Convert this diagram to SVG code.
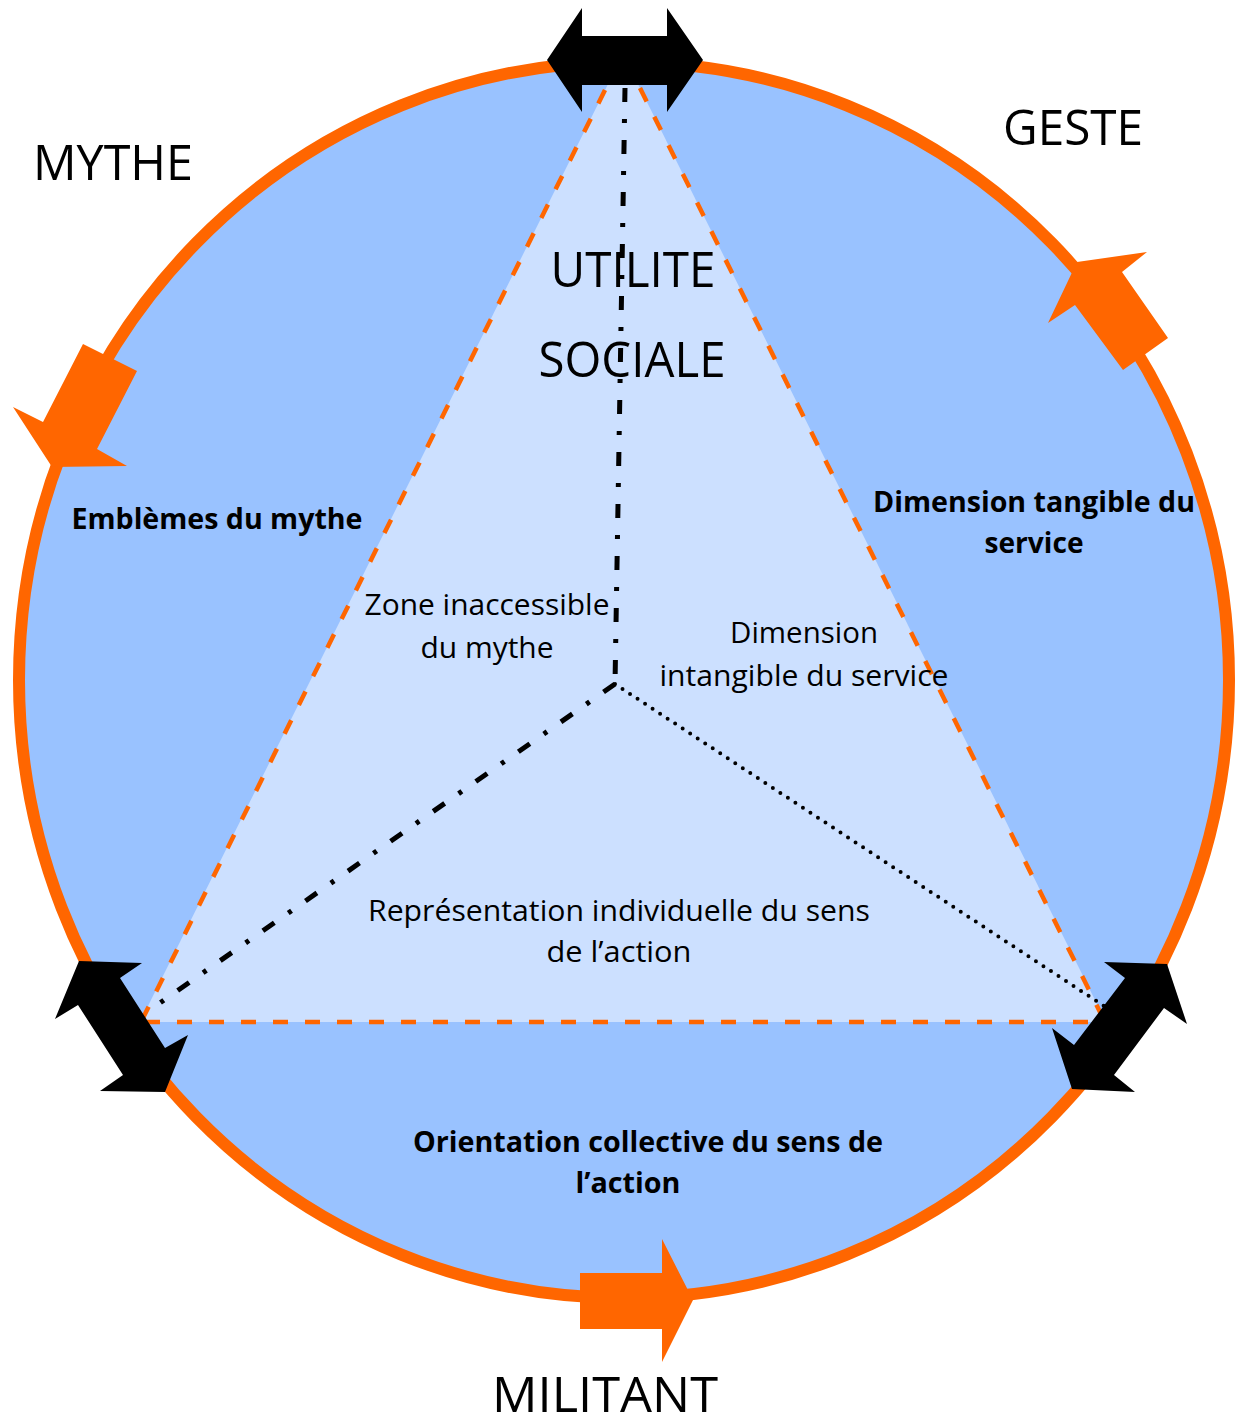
<svg xmlns="http://www.w3.org/2000/svg" width="1242" height="1428" viewBox="0 0 1242 1428">
<style>
.title{font-family:"Open Sans","Liberation Sans",sans-serif;font-size:49px;fill:#000;text-anchor:middle}
.lbl{font-family:"Open Sans","Liberation Sans",sans-serif;font-size:29px;fill:#000;text-anchor:middle}
.bold{font-weight:bold;font-size:28px}
.edge{fill:none;stroke:#FF6600;stroke-width:4.5;stroke-dasharray:15 17}
.dashdot{fill:none;stroke:#000;stroke-width:5;stroke-dasharray:14 17 4 17}
.dot{fill:none;stroke:#000;stroke-width:4;stroke-linecap:round;stroke-dasharray:0 9}
.orange{fill:#FF6600}
.black{fill:#000}
</style>
<rect width="1242" height="1428" fill="#fff"/>
<g id="circle">
<ellipse cx="624" cy="680" rx="605" ry="618" fill="#99C2FF" stroke="#FF6600" stroke-width="12"/>
</g>
<g id="triangle">
<polygon points="623,54 140,1022 1106,1022" fill="#CCE0FF"/>
<line class="edge" x1="605" y1="90" x2="142" y2="1020"/>
<line class="edge" x1="640" y1="88" x2="1104" y2="1020"/>
<line class="edge" x1="145" y1="1022" x2="1102" y2="1022"/>
</g>
<g id="connectors">
<line class="dashdot" x1="625" y1="88" x2="615" y2="684"/>
<line class="dashdot" x1="615" y1="684" x2="147" y2="1012"/>
<line class="dot" x1="615" y1="684" x2="1104" y2="1006"/>
</g>
<g id="mythe"><text class="title" x="113" y="180" textLength="160" lengthAdjust="spacingAndGlyphs">MYTHE</text></g>
<g id="geste"><text class="title" x="1073" y="145" textLength="140" lengthAdjust="spacingAndGlyphs">GESTE</text></g>
<g id="militant"><text class="title" x="605" y="1412" font-size="46" textLength="226" lengthAdjust="spacingAndGlyphs">MILITANT</text></g>
<g id="utilite"><text class="title" x="633" y="287" textLength="165" lengthAdjust="spacingAndGlyphs">UTILITE</text><text class="title" x="632" y="377" textLength="187" lengthAdjust="spacingAndGlyphs">SOCIALE</text></g>
<g id="emblemes"><text class="lbl bold" x="217" y="529" textLength="291" lengthAdjust="spacingAndGlyphs">Emblèmes du mythe</text></g>
<g id="tangible"><text class="lbl bold" x="1034" y="512" textLength="322" lengthAdjust="spacingAndGlyphs">Dimension tangible du</text><text class="lbl bold" x="1034" y="553" textLength="99" lengthAdjust="spacingAndGlyphs">service</text></g>
<g id="zone"><text class="lbl" x="487" y="615" textLength="245" lengthAdjust="spacingAndGlyphs">Zone inaccessible</text><text class="lbl" x="487" y="658" textLength="133" lengthAdjust="spacingAndGlyphs">du mythe</text></g>
<g id="intangible"><text class="lbl" x="804" y="643" textLength="148" lengthAdjust="spacingAndGlyphs">Dimension</text><text class="lbl" x="804" y="686" textLength="289" lengthAdjust="spacingAndGlyphs">intangible du service</text></g>
<g id="representation"><text class="lbl" x="619" y="921" textLength="502" lengthAdjust="spacingAndGlyphs">Représentation individuelle du sens</text><text class="lbl" x="619" y="962" textLength="145" lengthAdjust="spacingAndGlyphs">de l’action</text></g>
<g id="orientation"><text class="lbl bold" x="648" y="1152" textLength="470" lengthAdjust="spacingAndGlyphs">Orientation collective du sens de</text><text class="lbl bold" x="628" y="1193" textLength="105" lengthAdjust="spacingAndGlyphs">l’action</text></g>
<g id="arrows">
<polygon class="black" points="547,60 582,8 582,36 667,36 667,8 703,60 667,112 667,85 582,85 582,112"/>
<polygon class="black" points="79,961 142,963 120,978 165,1048 188,1035 165,1092 100,1091 123,1075 78,1005 55,1019"/>
<polygon class="black" points="1167,964 1187,1024 1164,1008 1114,1075 1135,1092 1072,1089 1052,1028 1074,1045 1125,978 1104,962"/>
<polygon class="orange" points="83,344 137,371 97,449 127,466 52,467 13,407 43,422"/>
<polygon class="orange" points="1077,262 1147,252 1122,272 1168,338 1123,370 1075,305 1048,323"/>
<polygon class="orange" points="580,1273 662,1273 662,1239 693,1300 662,1362 662,1329 580,1329"/>
</g>
</svg>
